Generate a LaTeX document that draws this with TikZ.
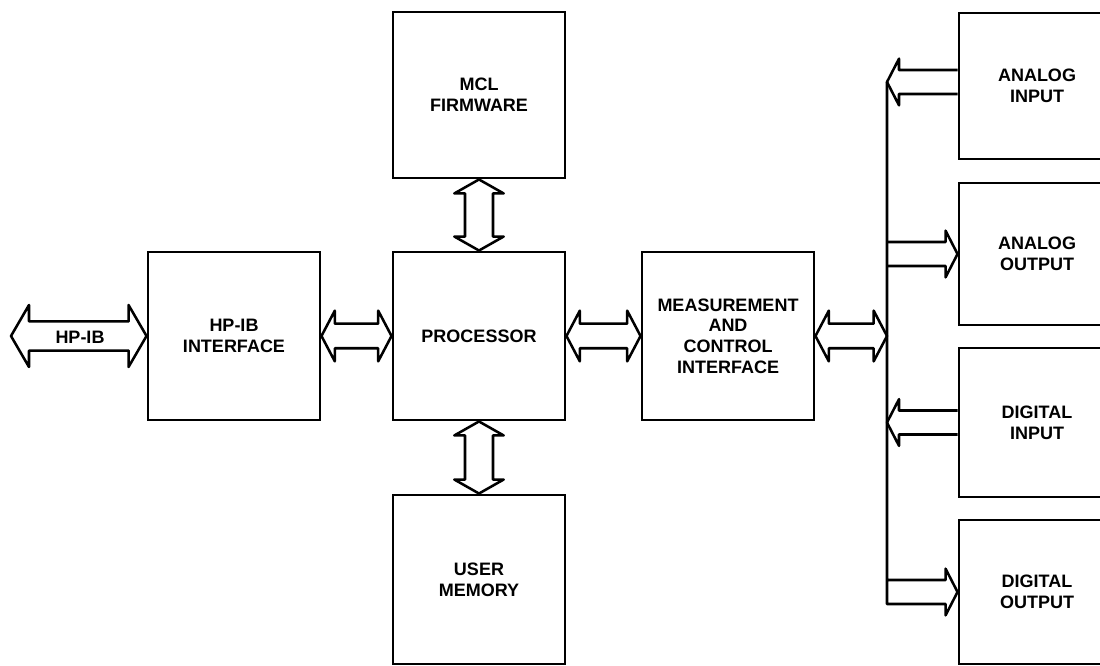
\documentclass[tikz,border=0pt]{standalone}
\usepackage{fontspec}
\newfontfamily\lbl{Liberation Sans}
\usetikzlibrary{calc}
% horizontal double block arrow: #1 left tip, #2 right tip, #3 depth, #4 barb, #5 shaft half-width
\newcommand\hdbl[5]{\draw[barrow] (#1) -- ++(#3,#4) -- ++(0pt,#5-#4) -- ($(#2)+(-#3,#5)$) -- ++(0pt,#4-#5) -- (#2) -- ++(-#3,-#4) -- ++(0pt,#4-#5) -- ($(#1)+(#3,-#5)$) -- ++(0pt,#5-#4) -- cycle;}
% vertical double block arrow: #1 top tip, #2 bottom tip
\newcommand\vdbl[5]{\draw[barrow] (#1) -- ++(#4,-#3) -- ++(#5-#4,0pt) -- ($(#2)+(#5,#3)$) -- ++(#4-#5,0pt) -- (#2) -- ++(-#4,#3) -- ++(#4-#5,0pt) -- ($(#1)+(-#5,-#3)$) -- ++(#5-#4,0pt) -- cycle;}
% single arrow pointing left: #1 tip, #2 tail
\newcommand\lsng[5]{\draw[barrow] ($(#2)+(0pt,#5)$) -- ($(#1)+(#3,#5)$) -- ++(0pt,#4-#5) -- (#1) -- ++(#3,-#4) -- ++(0pt,#4-#5) -- ($(#2)+(0pt,-#5)$);}
% single arrow pointing right: #1 tail, #2 tip
\newcommand\rsng[5]{\draw[barrow] ($(#1)+(0pt,#5)$) -- ($(#2)+(-#3,#5)$) -- ++(0pt,#4-#5) -- (#2) -- ++(-#3,-#4) -- ++(0pt,#4-#5) -- ($(#1)+(0pt,-#5)$);}
\begin{document}
\begin{tikzpicture}[x=0.75pt,y=-0.75pt,
  box/.style 2 args={draw, line width=2.2pt, minimum width={#1*0.75pt}, minimum height={#2*0.75pt}, inner sep=0pt, align=center, font=\lbl\bfseries\fontsize{13.5}{15.5}\selectfont},
  lbltext/.style={inner sep=0pt, font=\lbl\bfseries\fontsize{13.5}{15.5}\selectfont},
  barrow/.style={draw, line width=1.9pt, line join=round}]
\clip (0,0) rectangle (1100,666);
\fill[white] (0,0) rectangle (1100,666);
% boxes
\node[box={172}{166}] (fw)   at (479,95)    {MCL\\FIRMWARE};
\node[box={172}{168}] (hpi)  at (234,336)   {HP-IB\\INTERFACE};
\node[box={172}{168}] (proc) at (479,336)   {PROCESSOR};
\node[box={172}{168}] (meas) at (728,336)   {MEASUREMENT\\AND\\CONTROL\\INTERFACE};
\node[box={172}{169}] (mem)  at (479,579.5) {USER\\MEMORY};
\node[box={156}{146}] (ai)   at (1037,86)   {ANALOG\\INPUT};
\node[box={156}{142}] (ao)   at (1037,254)  {ANALOG\\OUTPUT};
\node[box={156}{149}] (di)   at (1037,422.5){DIGITAL\\INPUT};
\node[box={156}{144}] (do)   at (1037,592)  {DIGITAL\\OUTPUT};
% bus coordinates
\coordinate (ext) at (11,336);
\coordinate (bus) at (887,336);
\coordinate (aiW) at ($(ai.west)+(0,-4)$);
\coordinate (aiT) at (bus |- aiW);
\coordinate (aoT) at (bus |- ao.west);
\coordinate (diT) at (bus |- di.west);
\coordinate (doT) at (bus |- do.west);
% block arrows between boxes
\hdbl{ext}{hpi.west}{13.5pt}{23.25pt}{10.9pt}
\node[lbltext] (hpibl) at (80,337) {HP-IB};
\hdbl{hpi.east}{proc.west}{10pt}{19pt}{9.2pt}
\hdbl{proc.east}{meas.west}{10pt}{19pt}{9.2pt}
\hdbl{meas.east}{bus}{10pt}{19pt}{9.2pt}
\vdbl{fw.south}{proc.north}{10.5pt}{18.5pt}{10.5pt}
\vdbl{proc.south}{mem.north}{10.5pt}{18.5pt}{10.5pt}
% bus arrows
\lsng{aiT}{aiW}{9pt}{17.5pt}{9pt}
\rsng{aoT}{ao.west}{9pt}{17.5pt}{9pt}
\lsng{diT}{di.west}{9pt}{17.5pt}{9pt}
\draw[barrow] ($(doT)+(0pt,9pt)$) -- ($(do.west)+(-9pt,9pt)$) -- ++(0pt,8.5pt) -- (do.west) -- ++(-9pt,-17.5pt) -- ++(0pt,8.5pt) -- ($(doT)+(0pt,-9pt)$) -- (aiT);
\end{tikzpicture}
\end{document}
